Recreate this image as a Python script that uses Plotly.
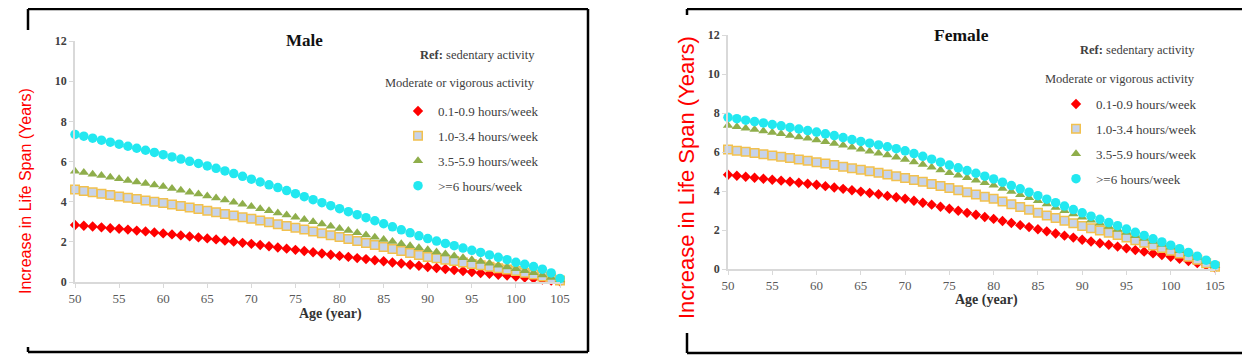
import plotly.graph_objects as go

# Page body has a default 8px margin: size the figure so it fits the window
OX, OY = 8, 8
W, H = 1242, 349

ages = list(range(50, 106))

male_01_09 = [2.84, 2.80, 2.76, 2.72, 2.68, 2.65, 2.61, 2.56, 2.52, 2.47,
              2.42, 2.37, 2.32, 2.27, 2.22, 2.17, 2.12, 2.06, 2.01, 1.95,
              1.90, 1.84, 1.78, 1.72, 1.66, 1.60, 1.54, 1.48, 1.42, 1.36,
              1.30, 1.25, 1.19, 1.14, 1.08, 1.03, 0.97, 0.92, 0.86, 0.81,
              0.75, 0.70, 0.65, 0.60, 0.55, 0.50, 0.45, 0.41, 0.36, 0.32,
              0.27, 0.22, 0.17, 0.12, 0.07, 0.03]
male_10_34 = [4.60, 4.53, 4.47, 4.40, 4.33, 4.26, 4.20, 4.13, 4.06, 4.00,
              3.93, 3.86, 3.78, 3.71, 3.63, 3.55, 3.47, 3.39, 3.31, 3.23,
              3.15, 3.06, 2.97, 2.88, 2.79, 2.70, 2.61, 2.52, 2.43, 2.33,
              2.24, 2.14, 2.04, 1.94, 1.84, 1.74, 1.64, 1.54, 1.44, 1.34,
              1.25, 1.18, 1.11, 1.04, 0.97, 0.90, 0.83, 0.76, 0.69, 0.62,
              0.55, 0.46, 0.37, 0.28, 0.18, 0.08]
male_35_59 = [5.52, 5.45, 5.37, 5.30, 5.22, 5.14, 5.06, 4.98, 4.90, 4.83,
              4.75, 4.66, 4.57, 4.47, 4.38, 4.28, 4.18, 4.08, 3.97, 3.87,
              3.76, 3.65, 3.55, 3.44, 3.33, 3.22, 3.11, 3.00, 2.89, 2.78,
              2.67, 2.56, 2.45, 2.34, 2.23, 2.12, 2.02, 1.91, 1.81, 1.70,
              1.60, 1.50, 1.40, 1.30, 1.21, 1.11, 1.02, 0.93, 0.84, 0.75,
              0.66, 0.56, 0.46, 0.35, 0.23, 0.10]
male_6plus = [7.35, 7.26, 7.16, 7.06, 6.96, 6.86, 6.76, 6.66, 6.56, 6.45,
              6.34, 6.23, 6.12, 6.01, 5.90, 5.78, 5.66, 5.53, 5.40, 5.26,
              5.12, 4.98, 4.84, 4.70, 4.55, 4.40, 4.25, 4.10, 3.95, 3.80,
              3.65, 3.50, 3.35, 3.20, 3.05, 2.90, 2.75, 2.60, 2.45, 2.30,
              2.16, 2.04, 1.92, 1.81, 1.69, 1.58, 1.47, 1.35, 1.23, 1.11,
              0.98, 0.88, 0.77, 0.64, 0.45, 0.18]

female_01_09 = [4.83, 4.78, 4.73, 4.68, 4.63, 4.58, 4.53, 4.48, 4.42, 4.37,
                4.32, 4.25, 4.18, 4.11, 4.04, 3.97, 3.90, 3.83, 3.75, 3.68,
                3.60, 3.50, 3.40, 3.30, 3.19, 3.09, 2.99, 2.88, 2.78, 2.67,
                2.57, 2.46, 2.36, 2.25, 2.15, 2.04, 1.93, 1.82, 1.71, 1.61,
                1.50, 1.41, 1.32, 1.24, 1.15, 1.06, 0.97, 0.89, 0.80, 0.72,
                0.63, 0.52, 0.41, 0.30, 0.19, 0.08]
female_10_34 = [6.13, 6.07, 6.01, 5.95, 5.89, 5.82, 5.76, 5.69, 5.62, 5.55,
                5.48, 5.41, 5.33, 5.25, 5.17, 5.09, 5.01, 4.93, 4.84, 4.76,
                4.67, 4.57, 4.47, 4.36, 4.26, 4.15, 4.04, 3.93, 3.82, 3.71,
                3.60, 3.46, 3.32, 3.18, 3.04, 2.89, 2.75, 2.62, 2.48, 2.35,
                2.21, 2.09, 1.97, 1.86, 1.74, 1.62, 1.48, 1.35, 1.21, 1.08,
                0.94, 0.79, 0.63, 0.47, 0.30, 0.12]
female_35_59 = [7.36, 7.29, 7.22, 7.15, 7.08, 7.00, 6.93, 6.85, 6.77, 6.70,
                6.62, 6.53, 6.44, 6.34, 6.24, 6.14, 6.04, 5.94, 5.84, 5.73,
                5.62, 5.49, 5.36, 5.22, 5.08, 4.94, 4.81, 4.68, 4.55, 4.42,
                4.29, 4.13, 3.97, 3.81, 3.66, 3.50, 3.33, 3.16, 2.99, 2.82,
                2.65, 2.50, 2.34, 2.18, 2.03, 1.87, 1.71, 1.56, 1.41, 1.26,
                1.11, 0.94, 0.77, 0.59, 0.39, 0.17]
female_6plus = [7.78, 7.71, 7.63, 7.56, 7.49, 7.41, 7.34, 7.26, 7.18, 7.10,
                7.02, 6.93, 6.84, 6.74, 6.64, 6.54, 6.45, 6.36, 6.27, 6.17,
                6.06, 5.92, 5.78, 5.63, 5.48, 5.33, 5.19, 5.05, 4.91, 4.76,
                4.62, 4.45, 4.28, 4.11, 3.94, 3.76, 3.58, 3.40, 3.23, 3.05,
                2.88, 2.71, 2.55, 2.38, 2.22, 2.05, 1.88, 1.72, 1.55, 1.39,
                1.22, 1.04, 0.85, 0.66, 0.45, 0.22]

series_names = ["0.1-0.9 hours/week", "1.0-3.4 hours/week",
                "3.5-5.9 hours/week", ">=6 hours/week"]
x_ticks = [50, 55, 60, 65, 70, 75, 80, 85, 90, 95, 100, 105]
y_ticks = [0, 2, 4, 6, 8, 10, 12]

SERIF = "Liberation Serif"
SANS = "Liberation Sans"

styles = [
    dict(symbol="diamond", size=8, color="#ff0000", line=dict(width=0)),
    dict(symbol="square", size=8.5, color="#c7d3ea", line=dict(width=1.5, color="#f2c14e")),
    dict(symbol="triangle-up", size=9, color="#8fae4b", line=dict(width=0)),
    dict(symbol="circle", size=9.5, color="#22e8f0", line=dict(width=0)),
]

def px(x):
    return (x - OX) / W

def py(y):
    return 1 - (y - OY) / H

fig = go.Figure()

male = [male_01_09, male_10_34, male_35_59, male_6plus]
female = [female_01_09, female_10_34, female_35_59, female_6plus]

for i, (name, vals) in enumerate(zip(series_names, male)):
    fig.add_trace(go.Scatter(x=ages, y=vals, mode="markers", name=name,
                             marker=styles[i], xaxis="x", yaxis="y",
                             legend="legend", legendgroup="m%d" % i,
                             cliponaxis=False))
for i, (name, vals) in enumerate(zip(series_names, female)):
    fig.add_trace(go.Scatter(x=ages, y=vals, mode="markers", name=name,
                             marker=styles[i], xaxis="x2", yaxis="y2",
                             legend="legend2", legendgroup="f%d" % i,
                             cliponaxis=False))

def xax(dom, anchor):
    return dict(domain=dom, anchor=anchor, range=[50, 105], tickvals=x_ticks,
                showgrid=False, zeroline=False, showline=True,
                linecolor="#d9d9d9", linewidth=1.5, ticks="outside",
                ticklen=4, tickcolor="#d9d9d9", automargin=False,
                tickfont=dict(family=SERIF, size=13, color="#595959"))

def yax(dom, anchor):
    return dict(domain=dom, anchor=anchor, range=[0, 12], tickvals=y_ticks,
                showgrid=False, zeroline=False, showline=True,
                linecolor="#d9d9d9", linewidth=1.5, ticks="outside",
                ticklen=4, tickcolor="#d9d9d9", automargin=False,
                tickfont=dict(family=SERIF, size=12, color="#404040", weight="bold"))

leg_common = dict(font=dict(family=SERIF, size=13, color="#404040"),
                  bgcolor="rgba(0,0,0,0)", tracegroupgap=5,
                  xanchor="left", yanchor="top", itemsizing="trace")

fig.update_layout(
    width=W, height=H,
    margin=dict(l=0, r=0, t=0, b=0, pad=0, autoexpand=False),
    paper_bgcolor="white", plot_bgcolor="white",
    showlegend=True,
    xaxis=xax([px(75), px(560)], "y"),
    yaxis=yax([py(282), py(41)], "x"),
    xaxis2=xax([px(728), px(1215)], "y2"),
    yaxis2=yax([py(269), py(35)], "x2"),
    legend=dict(x=px(398), y=py(96), **leg_common),
    legend2=dict(x=px(1056), y=py(89), **leg_common),
)

ann = []
def text(x, y, s, size, family=SERIF, color="#404040", xanchor="center", angle=0):
    ann.append(dict(x=px(x), y=py(y), xref="paper", yref="paper", text=s,
                    showarrow=False, xanchor=xanchor, yanchor="middle",
                    textangle=angle,
                    font=dict(family=family, size=size, color=color)))

# Male panel texts
text(304, 40, "<b>Male</b>", 17, color="#111111")
text(330, 314, "<b>Age (year)</b>", 14, color="#333333")
text(537, 55, "<b>Ref:</b> sedentary activity", 12.5, xanchor="right")
text(537, 83, "Moderate or vigorous activity", 12.5, xanchor="right")
text(26, 191, "Increase in Life Span (Years)", 16, family=SANS, color="#ff0000", angle=-90)
# Female panel texts
text(961, 35, "<b>Female</b>", 17.5, color="#111111")
text(986, 300, "<b>Age (year)</b>", 14, color="#333333")
text(1197, 50, "<b>Ref:</b> sedentary activity", 12.5, xanchor="right")
text(1197, 79, "Moderate or vigorous activity", 12.5, xanchor="right")
text(686, 178, "Increase in Life Span (Years)", 22, family=SANS, color="#ff0000", angle=-90)
fig.update_layout(annotations=ann)

# Frame boxes around each panel
shapes = []
def seg(x0, y0, x1, y1):
    shapes.append(dict(type="line", xref="paper", yref="paper",
                       x0=px(x0), y0=py(y0), x1=px(x1), y1=py(y1),
                       line=dict(color="black", width=2.5)))
seg(28, 9, 588, 9)
seg(588, 9, 588, 352)
seg(28, 352, 588, 352)
seg(28, 9, 28, 30)
seg(28, 347, 28, 352)
seg(687, 9, 1247, 9)
seg(1247, 9, 1247, 353)
seg(687, 353, 1247, 353)
seg(687, 9, 687, 15)
seg(687, 333, 687, 353)
fig.update_layout(shapes=shapes)

fig.write_html("out.html")
